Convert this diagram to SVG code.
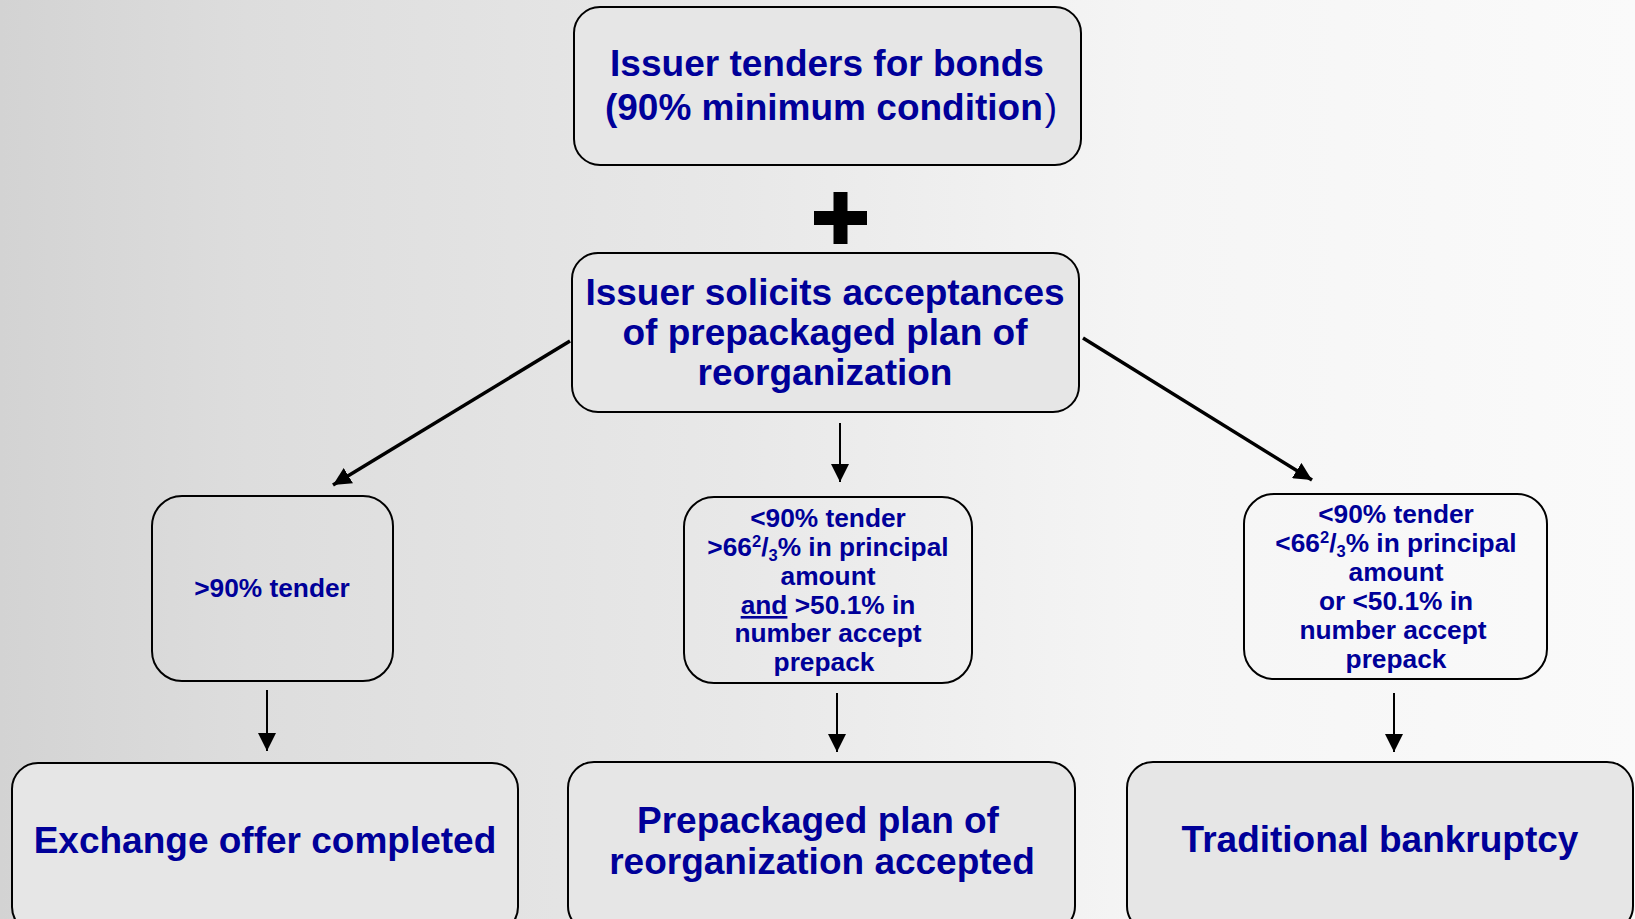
<svg xmlns="http://www.w3.org/2000/svg" width="1635" height="919" viewBox="0 0 1635 919">
  <defs>
    <linearGradient id="bg" x1="0" y1="0" x2="1" y2="0">
      <stop offset="0" stop-color="#d3d3d3"/>
      <stop offset="0.15" stop-color="#dddddd"/>
      <stop offset="0.45" stop-color="#e8e8e8"/>
      <stop offset="0.7" stop-color="#f5f5f5"/>
      <stop offset="1" stop-color="#fafafa"/>
    </linearGradient>
    <marker id="ah" markerUnits="userSpaceOnUse" markerWidth="18" markerHeight="18" refX="16" refY="8" orient="auto" viewBox="0 0 16 16">
      <path d="M0,0 L16,8 L0,16 z" fill="#000"/>
    </marker>
    <style>
      .big { fill: #e6e6e6; stroke: #000; stroke-width: 2; }
      .small { fill: none; stroke: #000; stroke-width: 2; }
      text { font-family: "Liberation Sans", Arial, sans-serif; font-weight: bold; fill: #000099; text-anchor: middle; }
      .t37 { font-size: 37px; }
      .t26 { font-size: 26.3px; }
      .conn line { stroke: #000; marker-end: url(#ah); }
    </style>
  </defs>
  <rect x="0" y="0" width="1635" height="919" fill="url(#bg)"/>

  <g id="top">
    <rect class="big" x="574" y="7" width="507" height="158" rx="26"/>
    <text class="t37" x="827" y="76">Issuer tenders for bonds</text>
    <text class="t37" x="831" y="120">(90% minimum condition<tspan font-weight="normal" dx="2">)</tspan></text>
  </g>

  <g id="plus">
    <rect x="833.5" y="192" width="14" height="52" fill="#000"/>
    <rect x="814" y="211" width="53" height="14" fill="#000"/>
  </g>

  <g id="solicit">
    <rect class="big" x="572" y="253" width="507" height="159" rx="26"/>
    <text class="t37" x="825" y="305">Issuer solicits acceptances</text>
    <text class="t37" x="825" y="345">of prepackaged plan of</text>
    <text class="t37" x="825" y="385">reorganization</text>
  </g>

  <g id="over90">
    <rect class="small" x="152" y="496" width="241" height="185" rx="30"/>
    <text class="t26" x="272" y="597">&gt;90% tender</text>
  </g>

  <g id="under90accept">
    <rect class="small" x="684" y="497" width="288" height="186" rx="30"/>
    <text class="t26" x="828" y="527">&lt;90% tender</text>
    <text class="t26" x="828" y="556">&gt;66<tspan font-size="16.5" dy="-9">2</tspan><tspan dy="9">/</tspan><tspan font-size="16.5" dy="5">3</tspan><tspan dy="-5">% in principal</tspan></text>
    <text class="t26" x="828" y="585">amount</text>
    <text class="t26" x="828" y="614"><tspan text-decoration="underline">and</tspan> &gt;50.1% in</text>
    <text class="t26" x="828" y="642">number accept</text>
    <text class="t26" x="824" y="671">prepack</text>
  </g>

  <g id="under90reject">
    <rect class="small" x="1244" y="494" width="303" height="185" rx="30"/>
    <text class="t26" x="1396" y="523">&lt;90% tender</text>
    <text class="t26" x="1396" y="552">&lt;66<tspan font-size="16.5" dy="-9">2</tspan><tspan dy="9">/</tspan><tspan font-size="16.5" dy="5">3</tspan><tspan dy="-5">% in principal</tspan></text>
    <text class="t26" x="1396" y="581">amount</text>
    <text class="t26" x="1396" y="610">or &lt;50.1% in</text>
    <text class="t26" x="1393" y="639">number accept</text>
    <text class="t26" x="1396" y="668">prepack</text>
  </g>

  <g id="exchange">
    <rect class="big" x="12" y="763" width="506" height="170" rx="26"/>
    <text class="t37" x="265" y="853">Exchange offer completed</text>
  </g>

  <g id="prepack">
    <rect class="big" x="568" y="762" width="507" height="170" rx="26"/>
    <text class="t37" x="818" y="833">Prepackaged plan of</text>
    <text class="t37" x="822" y="874">reorganization accepted</text>
  </g>

  <g id="bankruptcy">
    <rect class="big" x="1127" y="762" width="506" height="170" rx="26"/>
    <text class="t37" x="1380" y="852">Traditional bankruptcy</text>
  </g>

  <g id="connectors" class="conn">
    <line x1="570" y1="341" x2="333" y2="485" stroke-width="3.5"/>
    <line x1="1083" y1="338" x2="1312" y2="480" stroke-width="3.5"/>
    <line x1="840" y1="423" x2="840" y2="482" stroke-width="2"/>
    <line x1="267" y1="690" x2="267" y2="751" stroke-width="2"/>
    <line x1="837" y1="693" x2="837" y2="752" stroke-width="2"/>
    <line x1="1394" y1="693" x2="1394" y2="752" stroke-width="2"/>
  </g>
</svg>
